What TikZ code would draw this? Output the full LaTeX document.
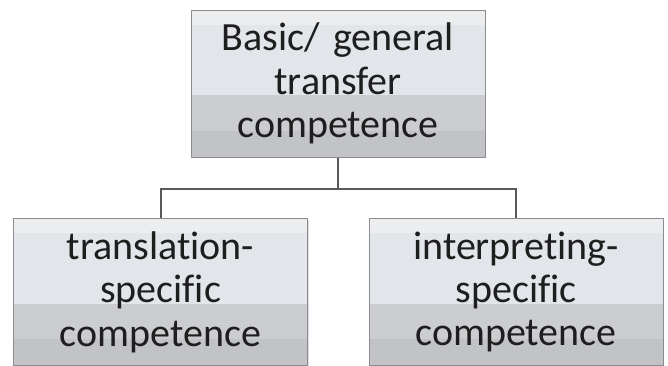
\documentclass[tikz,border=0pt]{standalone}
\usepackage{fontspec}
\setmainfont{Carlito}[Ligatures=NoCommon]
\usetikzlibrary{calc,shadows}
\definecolor{boxline}{HTML}{8A8C8F}
\definecolor{bandtop}{HTML}{ECEDEE}
\definecolor{bandmid}{HTML}{E2E5E9}
\definecolor{banddark}{HTML}{CBCDD0}
\definecolor{banddeep}{HTML}{C1C3C6}
\definecolor{linkgray}{HTML}{5A5A5A}
\definecolor{inkgray}{HTML}{1E1E1E}
\begin{document}
\begin{tikzpicture}[x=0.75pt,y=-0.75pt,
  compbox/.style={draw=boxline,line width=0.75pt,minimum width=220.5pt,minimum height=110.25pt,
    text width=215pt,align=center,inner sep=0pt,text=inkgray,
    font=\fontsize{30}{32.5}\selectfont,
    drop shadow={opacity=0.25,shadow xshift=1pt,shadow yshift=-1pt},
    path picture={
      \fill[bandtop] (path picture bounding box.north west) rectangle
        ($(path picture bounding box.north east)!0.1!(path picture bounding box.south east)$);
      \fill[bandmid] ($(path picture bounding box.north west)!0.1!(path picture bounding box.south west)$) rectangle
        ($(path picture bounding box.north east)!0.58!(path picture bounding box.south east)$);
      \fill[banddark] ($(path picture bounding box.north west)!0.58!(path picture bounding box.south west)$) rectangle
        ($(path picture bounding box.north east)!0.82!(path picture bounding box.south east)$);
      \fill[banddeep] ($(path picture bounding box.north west)!0.82!(path picture bounding box.south west)$) rectangle
        (path picture bounding box.south east);
    }},
  link/.style={draw=linkgray,line width=1.5pt}]
\useasboundingbox[fill=white] (0,0) rectangle (668,365);
% general competence on top, the two specific ones below
\node[compbox] (general) at (338,83.5) {Basic/ general\\transfer\\competence};
\node[compbox] (transl) at (160.5,292) {translation-\\specific\\competence};
\node[compbox] (interp) at (516,292) {interpreting-\\specific\\competence};
\coordinate (fork) at ($(general.south)+(0,31)$);
\draw[link] (general.south) -- (fork);
\draw[link] (transl.north) |- (fork) -| (interp.north);
\end{tikzpicture}
\end{document}
